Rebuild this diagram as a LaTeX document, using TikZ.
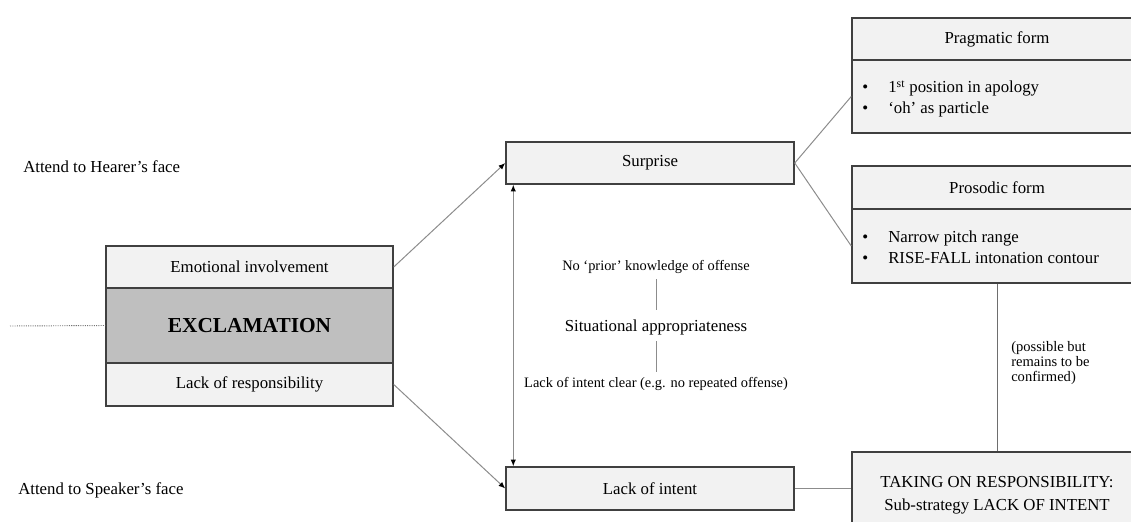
\documentclass[tikz,border=0pt]{standalone}
\usepackage{fontspec}
\setmainfont{Liberation Serif}
\usetikzlibrary{arrows.meta,calc}
\definecolor{boxfill}{HTML}{F2F2F2}
\definecolor{exfill}{HTML}{BFBFBF}
\definecolor{boxline}{HTML}{404040}
\definecolor{conn}{HTML}{8C8C8C}
\definecolor{conndark}{HTML}{6E6E6E}
\newcommand\mainsz{\fontsize{12.6pt}{15.75pt}\selectfont}
\newcommand\smallsz{\fontsize{10.8pt}{13pt}\selectfont}
\newcommand\notesz{\fontsize{10.9pt}{11.6pt}\selectfont}
\begin{document}
\begin{tikzpicture}[x=0.75pt,y=-0.75pt,
  box/.style={draw=boxline,fill=boxfill,line width=1.1pt,inner sep=0pt,font=\mainsz,align=center},
  exbox/.style={box,fill=exfill,font=\fontsize{16pt}{19pt}\selectfont\bfseries},
  plain/.style={inner sep=0pt,font=\mainsz},
  small/.style={inner sep=0pt,font=\smallsz},
  listtext/.style={inner sep=0pt,font=\mainsz,align=left,anchor=west},
  conn/.style={draw=conn,line width=0.75pt},
  arr/.style={conn,-{Latex[length=5pt,width=4pt,color=black]}},
  darr/.style={conn,{Latex[length=5pt,width=4pt,color=black]}-{Latex[length=5pt,width=4pt,color=black]}}
]
\useasboundingbox (0,0) rectangle (1131,521);
\clip (0,0) rectangle (1131,521);

% left block
\node[box,minimum width=215.25pt,minimum height=31.5pt] (emo) at (249.5,267) {Emotional involvement};
\node[exbox,minimum width=215.25pt,minimum height=56.25pt] (excl) at (249.5,325.5) {EXCLAMATION};
\node[box,minimum width=215.25pt,minimum height=32.25pt] (lresp) at (249.5,384.5) {Lack of responsibility};
\coordinate (dotstart) at (10,326);
\draw[draw=black!55,line width=0.7pt,dash pattern=on 0.8pt off 0.9pt] (dotstart) -- (excl.west);

% face labels
\node[plain,anchor=west] (hearer) at (23,167) {Attend to Hearer’s face};
\node[plain,anchor=west] (speaker) at (18,490) {Attend to Speaker’s face};

% middle boxes
\node[box,minimum width=216pt,minimum height=31.5pt] (surprise) at (650,163) {Surprise};
\node[box,minimum width=216pt,minimum height=32.25pt] (lintent) at (650,488.5) {Lack of intent};

% right boxes
\node[box,minimum width=217.5pt,minimum height=31.5pt] (praghead) at (997,39) {Pragmatic form};
\node[box,minimum width=217.5pt,minimum height=54.75pt] (pragbody) at (997,96.5) {};
\node[listtext] (praglist) at (862,99) {\makebox[19.5pt][l]{\textbullet}1\textsuperscript{st} position in apology\\\makebox[19.5pt][l]{\textbullet}‘oh’ as particle};

\node[box,minimum width=217.5pt,minimum height=32.25pt] (proshead) at (997,187.5) {Prosodic form};
\node[box,minimum width=217.5pt,minimum height=55.5pt] (prosbody) at (997,246) {};
\node[listtext] (proslist) at (862,247.5) {\makebox[19.5pt][l]{\textbullet}Narrow pitch range\\\makebox[19.5pt][l]{\textbullet}RISE-FALL intonation contour};

\node[box,minimum width=217.5pt,minimum height=64.5pt,font=\fontsize{12.6pt}{17pt}\selectfont] (taking) at (997,495) {TAKING ON RESPONSIBILITY:\\Sub-strategy LACK OF INTENT};

% centre text
\node[small] (noprior) at (656,267) {No ‘prior’ knowledge of offense};
\node[plain] (situ) at (656,327) {Situational appropriateness};
\node[small] (lclear) at (656,384) {Lack of intent clear (e.g. no repeated offense)};
\draw[conn] ($(noprior.center)+(0,12)$) -- ($(situ.center)+(0,-17)$);
\draw[conn] ($(situ.center)+(0,14)$) -- ($(lclear.center)+(0,-12)$);

% note
\node[inner sep=0pt,font=\notesz,align=left,anchor=west] (note) at (1011,363) {(possible but\\remains to be\\confirmed)};

% connectors
\draw[arr] (emo.east) -- (surprise.west);
\draw[arr] (lresp.east) -- (lintent.west);
\draw[darr] ([xshift=6pt]surprise.south west) -- ([xshift=6pt]lintent.north west);
\draw[conn] (surprise.east) -- (pragbody.west);
\draw[conn] (surprise.east) -- (prosbody.west);
\draw[draw=conndark,line width=0.75pt] (prosbody.south) -- (taking.north);
\draw[conn] (lintent.east) -- (lintent.east -| taking.west);
\end{tikzpicture}
\end{document}
